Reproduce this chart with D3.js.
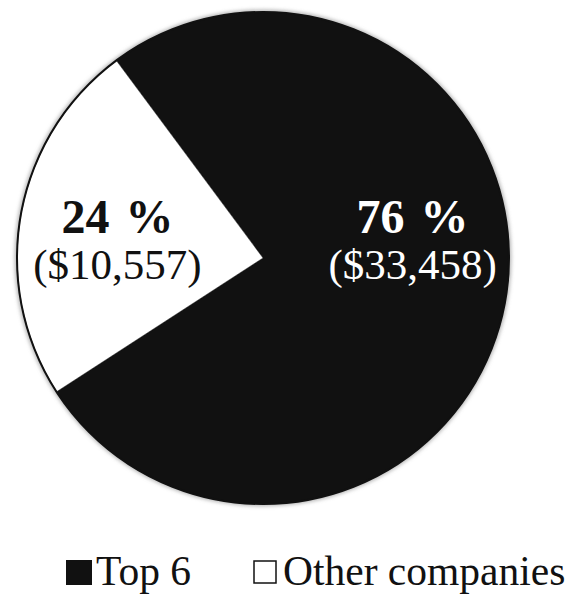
<!DOCTYPE html>
<html>
<head>
<meta charset="utf-8">
<script src="https://cdn.jsdelivr.net/npm/d3@7"></script>
<style>
  body { margin: 0; background: #fff; }
  text { font-family: "Liberation Serif", "Times New Roman", serif; }
</style>
</head>
<body>
<div class="pie-container"></div>
<script>
// data
const categories = ['Top 6', 'Other companies'];
const values = [33458, 10557];
const percent_labels = ['76 %', '24 %'];
const amount_labels = ['($33,458)', '($10,557)'];
const fill_colors = ['#111111', '#ffffff'];
const text_colors = ['#ffffff', '#111111'];

const svg_width = 571;
const svg_height = 594;
const center = {x: 263, y: 258};
const radius = 246;
// black slice starts a bit left of 12 o'clock
const start_angle = -36.6 * Math.PI / 180;

const svg = d3.select('.pie-container')
    .append('svg')
    .attr('width', svg_width)
    .attr('height', svg_height);

// soft edge like the scanned original
const defs = svg.append('defs');
const blur = defs.append('filter').attr('id', 'soft')
    .attr('x', '-10%').attr('y', '-10%').attr('width', '120%').attr('height', '120%');
blur.append('feGaussianBlur').attr('stdDeviation', 2);

const pie = d3.pie()
    .sort(null)
    .value(d => d)
    .startAngle(start_angle)
    .endAngle(start_angle + 2 * Math.PI);

const arcs = pie(values);
const arc = d3.arc().innerRadius(0).outerRadius(radius);
const label_arc = d3.arc().innerRadius(150).outerRadius(150);

const g = svg.append('g')
    .attr('transform', `translate(${center.x}, ${center.y})`);

// shadow ring
g.append('circle')
    .attr('r', radius)
    .attr('fill', 'none')
    .attr('stroke', '#888')
    .attr('stroke-width', 3)
    .attr('filter', 'url(#soft)');

g.selectAll('.slice')
    .data(arcs)
    .join('path')
    .attr('class', 'slice')
    .attr('d', arc)
    .attr('fill', (d, i) => fill_colors[i])
    .attr('stroke', '#111')
    .attr('stroke-width', 0.5);

g.append('circle')
    .attr('r', radius)
    .attr('fill', 'none')
    .attr('stroke', '#111')
    .attr('stroke-width', 2);

// labels: x from the slice centroid, two lines around the centre line
const labels = g.selectAll('.label')
    .data(arcs)
    .join('text')
    .attr('class', 'label')
    .attr('text-anchor', 'middle')
    .attr('fill', (d, i) => text_colors[i]);

labels.append('tspan')
    .attr('x', d => label_arc.centroid(d)[0] + 2)
    .attr('y', -25)
    .style('font-size', '48px')
    .style('font-weight', 'bold')
    .style('word-spacing', '4px')
    .text((d, i) => percent_labels[i]);

labels.append('tspan')
    .attr('x', d => label_arc.centroid(d)[0] + 2)
    .attr('y', 21)
    .style('font-size', '43px')
    .text((d, i) => amount_labels[i]);

// legend
const legend_x = d3.scalePoint()
    .domain(categories)
    .range([66, 253]);

const legend = svg.append('g')
    .attr('class', 'legend')
    .attr('transform', 'translate(0, 585)');

const items = legend.selectAll('.item')
    .data(categories)
    .join('g')
    .attr('class', 'item')
    .attr('transform', d => `translate(${legend_x(d)}, 0)`);

items.append('rect')
    .attr('x', (d, i) => i === 0 ? 0 : 1)
    .attr('y', (d, i) => i === 0 ? -25 : -24)
    .attr('width', (d, i) => i === 0 ? 26 : 22)
    .attr('height', (d, i) => i === 0 ? 25 : 22)
    .attr('fill', (d, i) => fill_colors[i])
    .attr('stroke', '#111')
    .attr('stroke-width', (d, i) => i === 0 ? 0 : 1.5);

items.append('text')
    .attr('x', 30)
    .attr('y', 0)
    .style('font-size', '41.5px')
    .attr('fill', '#111')
    .text(d => d);
</script>
</body>
</html>
